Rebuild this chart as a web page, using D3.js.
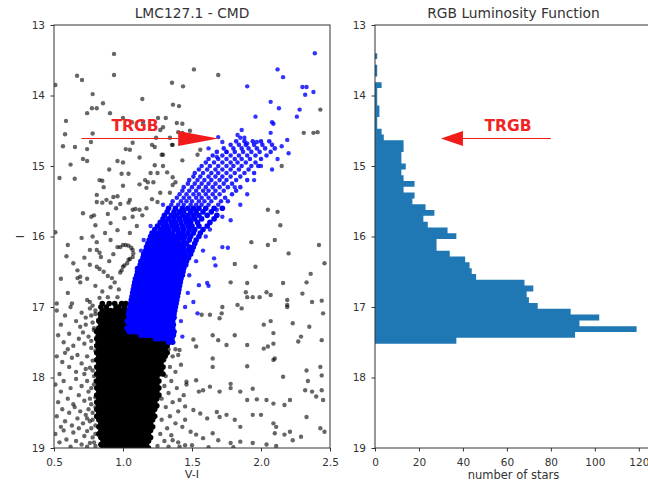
<!DOCTYPE html>
<html>
<head>
<meta charset="utf-8">
<script src="https://cdn.jsdelivr.net/npm/d3@7"></script>
<style>
    body { margin: 0; background: #fff; }
    svg { display: block; font-family: 'DejaVu Sans', sans-serif; }
</style>
</head>
<body>
<div id="content"></div>
<script>
// LMC127.1 colour-magnitude diagram and its RGB luminosity function

// non-RGB stars, read off the CMD as V-I, I pairs
const fieldStars = [
    0.935,13.41, 0.667,13.72, 0.703,13.78, 0.935,13.71, 1.514,13.63, 1.69,13.71, 0.78,13.98, 1.355,13.82,
    1.435,13.87, 1.14,14.05, 0.855,14.11, 0.81,14.18, 0.775,14.18, 0.74,14.25, 0.906,14.25, 1.362,14.13,
    1.406,14.15, 0.587,14.36, 0.58,14.55, 0.78,14.54, 0.565,14.72, 0.652,14.73, 0.74,14.76, 0.768,14.66,
    1.0,14.32, 1.065,14.38, 1.145,14.38, 1.254,14.32, 1.31,14.32, 1.39,14.39, 1.43,14.4, 1.485,14.5,
    1.4,14.52, 1.29,14.45, 1.27,14.49, 1.24,14.6, 1.34,14.6, 1.43,14.53, 1.07,14.67, 1.02,14.76,
    1.05,14.77, 1.21,14.7, 1.23,14.73, 1.36,14.7, 1.29,14.84, 1.355,14.7, 1.56,14.77, 1.54,14.84,
    2.31,14.53, 2.38,14.53, 2.41,14.52, 2.43,14.2, 0.51,13.85,
    0.54,15.17, 0.65,15.18, 0.71,14.9, 0.74,14.93, 0.96,14.93, 1.28,14.84, 1.43,14.92, 1.23,14.99,
    1.29,15.0, 1.2,15.1, 1.25,15.1, 1.32,15.09, 0.99,15.11, 1.04,15.11, 0.83,15.2, 0.85,15.21,
    0.86,15.3, 1.16,15.2, 1.18,15.23, 1.22,15.23, 1.36,15.16, 1.38,15.23, 1.36,15.27, 1.12,15.26,
    1.17,15.31, 1.0,15.28, 0.81,15.41, 0.93,15.44, 0.96,15.43, 0.91,15.52, 0.85,15.52, 0.81,15.51,
    0.88,15.48, 0.98,15.54, 1.05,15.48, 1.04,15.52, 1.27,15.38, 1.34,15.38, 1.21,15.47, 1.25,15.51,
    0.71,15.67, 0.77,15.72, 0.79,15.7, 0.89,15.68, 1.07,15.62, 1.09,15.61, 1.12,15.62, 1.17,15.6,
    1.14,15.7, 1.07,15.72, 1.01,15.74, 0.8,15.84, 0.91,15.81, 0.96,15.91, 0.51,15.94, 0.7,16.02,
    0.78,16.0, 0.81,16.08, 0.91,16.05, 0.96,16.15, 0.6,16.12, 0.59,16.28, 0.76,16.19, 0.81,16.19,
    0.83,16.23, 0.84,16.29,
    0.98,16.15, 1.0,16.12, 1.02,16.12, 1.04,16.13, 1.06,16.16, 1.07,16.19, 1.075,16.24, 1.07,16.29,
    1.05,16.32, 1.04,16.33, 1.03,16.38, 1.01,16.41, 1.0,16.43, 0.99,16.48, 0.98,16.51,
    0.67,16.48, 0.69,16.57, 0.67,16.59, 0.69,16.65, 0.76,16.4, 0.81,16.43, 0.83,16.46, 0.86,16.5,
    0.89,16.56, 0.92,16.59, 0.94,16.65, 0.8,16.7, 0.91,16.72, 0.74,16.9, 0.76,16.93, 0.83,16.87,
    0.89,16.86, 0.96,16.86,
    1.0,14.95, 1.12,14.88, 0.9,15.05, 0.62,14.98, 0.95,15.6, 0.87,15.95, 1.1,15.85, 1.05,15.95,
    0.72,16.3, 0.64,16.38, 0.9,16.35, 0.93,16.25, 0.74,16.6, 0.85,16.78, 0.97,16.75, 0.6,16.8,
    0.55,16.6, 0.52,16.95, 0.63,16.95,
    2.15,15.0, 2.05,15.62, 2.12,15.65, 2.14,15.84, 1.93,16.08, 2.05,16.12, 2.1,16.05, 2.2,16.24,
    2.42,16.12, 2.46,16.38, 1.81,16.39, 1.96,16.43, 1.78,16.65, 1.9,16.66, 2.16,16.66, 2.36,16.53,
    2.33,16.65, 2.3,16.81, 1.89,16.79, 1.9,16.86, 1.94,16.86, 1.99,16.86, 2.04,16.79, 2.07,16.83,
    2.19,16.9, 2.19,16.97, 2.37,16.93, 2.44,16.91, 1.72,17.0, 1.83,16.97,
    0.52,17.05, 0.58,17.12, 0.62,17.0, 0.66,17.2, 0.7,17.08, 0.73,17.15, 0.76,17.02, 0.78,17.22,
    0.8,17.1, 0.69,17.28, 0.55,17.25, 0.53,17.4, 0.57,17.5, 0.61,17.38, 0.64,17.55, 0.68,17.45,
    0.71,17.36, 0.72,17.52, 0.75,17.42, 0.77,17.58, 0.79,17.33, 0.6,17.6, 0.52,17.7, 0.56,17.78,
    0.58,17.65, 0.61,17.85, 0.63,17.72, 0.66,17.92, 0.67,17.68, 0.7,17.8, 0.72,17.95, 0.74,17.7,
    0.76,17.86, 0.78,17.76, 0.79,17.98, 0.54,17.95, 0.51,18.1, 0.55,18.2, 0.57,18.05, 0.6,18.3,
    0.62,18.15, 0.64,18.38, 0.66,18.02, 0.68,18.25, 0.7,18.12, 0.72,18.33, 0.74,18.05, 0.75,18.2,
    0.77,18.38, 0.79,18.1, 0.8,18.28, 0.53,18.35, 0.52,18.55, 0.56,18.45, 0.58,18.62, 0.61,18.5,
    0.63,18.68, 0.65,18.42, 0.67,18.58, 0.69,18.48, 0.71,18.65, 0.73,18.53, 0.75,18.45, 0.76,18.62,
    0.78,18.5, 0.8,18.68, 0.51,18.8, 0.54,18.92, 0.57,18.75, 0.59,18.88, 0.62,18.98, 0.64,18.78,
    0.66,18.9, 0.68,18.72, 0.7,18.95, 0.72,18.83, 0.74,18.76, 0.76,18.93, 0.78,18.85, 0.8,18.97,
    0.55,18.7, 0.73,17.25, 0.77,17.48, 0.8,17.62, 0.78,17.9, 0.8,18.05, 0.77,18.15, 0.8,18.42,
    0.78,18.6, 0.8,18.8, 0.77,18.72, 0.79,18.92, 0.74,18.98, 0.76,18.3, 0.74,18.58, 0.73,17.88,
    0.78,16.98, 0.8,17.05, 0.82,17.18, 0.79,17.3, 0.81,17.42, 0.77,17.12,
    1.33,17.6, 1.36,17.7, 1.3,17.75, 1.4,17.68, 1.34,17.85, 1.38,17.92, 1.31,17.98, 1.42,17.82,
    1.35,18.05, 1.3,18.12, 1.39,18.15, 1.33,18.22, 1.44,18.25, 1.28,18.3, 1.36,18.35, 1.31,18.42,
    1.4,18.48, 1.34,18.55, 1.28,18.6, 1.38,18.65, 1.32,18.72, 1.43,18.7, 1.27,18.8, 1.35,18.82,
    1.3,18.9, 1.4,18.92, 1.25,18.97, 1.33,18.98, 1.45,18.6, 1.46,18.1, 1.38,17.6, 1.29,17.62,
    1.57,17.11, 1.63,17.11, 1.715,17.09, 1.7,17.16, 1.86,17.02, 2.02,17.25, 2.07,17.2, 2.09,17.37,
    2.19,17.0, 2.23,17.23, 2.29,17.42, 2.27,17.49, 2.35,17.28, 2.44,17.47, 2.45,17.09, 1.65,17.4,
    1.69,17.47, 1.81,17.4, 1.75,17.54, 1.9,17.54, 2.02,17.59, 2.05,17.56, 2.09,17.52, 2.1,17.73,
    2.09,17.75, 1.65,17.73, 1.65,17.85, 1.9,17.84, 2.16,17.99, 2.33,17.9, 2.34,18.05, 2.43,17.85,
    2.44,17.97, 1.51,17.46, 1.53,17.56, 1.41,17.61, 1.46,18.06, 1.53,18.04, 1.55,18.2, 1.58,18.18,
    1.63,18.13, 1.7,18.2, 1.78,18.15, 1.78,18.09, 1.85,18.2, 1.9,18.32, 1.94,18.16, 1.97,18.31,
    2.04,18.32, 2.09,18.37, 2.17,18.39, 2.21,18.32, 2.32,18.18, 2.37,18.2, 2.4,18.27, 2.44,18.18,
    2.45,18.32, 1.41,18.32, 1.45,18.41, 1.51,18.46, 1.56,18.51, 1.61,18.58, 1.68,18.49, 1.7,18.56,
    1.75,18.53, 1.81,18.6, 1.85,18.7, 1.94,18.53, 2.0,18.53, 2.09,18.65, 2.11,18.7, 2.1,18.79,
    2.17,18.81, 2.21,18.77, 2.23,18.89, 2.29,18.84, 2.33,18.56, 2.43,18.72, 2.46,18.77, 1.49,18.77,
    1.53,18.81, 1.58,18.86, 1.65,18.79, 1.69,18.89, 1.78,18.93, 1.85,18.91, 1.94,18.93, 2.04,18.95,
    2.11,18.97, 1.5,18.96, 1.62,18.99, 1.8,18.99, 1.36,18.89, 1.41,18.98, 1.45,18.96
]

// the saturated main clump, one row per I: [I, [V-I, ...]]
const coreRows = [
    [16.95, [0.85, 0.9, 0.94, 0.99, 1.02]],
    [17.0, [0.84, 0.88, 0.95, 0.97, 1.01]],
    [17.05, [0.85, 0.88, 0.91, 0.94, 0.97, 1.0, 1.03]],
    [17.1, [0.835, 0.865, 0.895, 0.925, 0.955, 0.985, 1.015]],
    [17.15, [0.84, 0.87, 0.9, 0.93, 0.96, 0.99, 1.02]],
    [17.2, [0.825, 0.855, 0.885, 0.915, 0.945, 0.975, 1.005, 1.035]],
    [17.25, [0.84, 0.87, 0.9, 0.93, 0.96, 0.99, 1.02]],
    [17.3, [0.825, 0.855, 0.885, 0.915, 0.945, 0.975, 1.005, 1.035]],
    [17.35, [0.81, 0.84, 0.87, 0.9, 0.93, 0.96, 0.99, 1.02, 1.05, 1.08, 1.11]],
    [17.4, [0.825, 0.855, 0.885, 0.915, 0.945, 0.975, 1.005, 1.035, 1.065, 1.095, 1.125, 1.155, 1.185]],
    [17.45, [0.81, 0.84, 0.87, 0.9, 0.93, 0.96, 0.99, 1.02, 1.05, 1.08, 1.11, 1.14, 1.17, 1.2, 1.23, 1.26]],
    [17.5, [0.82, 0.855, 0.885, 0.915, 0.945, 0.975, 1.005, 1.035, 1.065, 1.095, 1.125, 1.155, 1.185, 1.215, 1.245, 1.275, 1.305, 1.335]],
    [17.55, [0.81, 0.84, 0.87, 0.9, 0.93, 0.96, 0.99, 1.02, 1.05, 1.08, 1.11, 1.14, 1.17, 1.2, 1.23, 1.26, 1.29, 1.32]],
    [17.6, [0.825, 0.855, 0.885, 0.915, 0.945, 0.975, 1.005, 1.035, 1.065, 1.095, 1.125, 1.155, 1.185, 1.215, 1.245, 1.275, 1.305]],
    [17.65, [0.81, 0.84, 0.87, 0.9, 0.93, 0.96, 0.99, 1.02, 1.05, 1.08, 1.11, 1.14, 1.17, 1.2, 1.23, 1.26, 1.29, 1.32]],
    [17.7, [0.825, 0.855, 0.885, 0.915, 0.945, 0.975, 1.005, 1.035, 1.065, 1.095, 1.125, 1.155, 1.185, 1.215, 1.245, 1.275, 1.305]],
    [17.75, [0.81, 0.84, 0.87, 0.9, 0.93, 0.96, 0.99, 1.02, 1.05, 1.08, 1.11, 1.14, 1.17, 1.2, 1.23, 1.26, 1.29]],
    [17.8, [0.825, 0.855, 0.885, 0.915, 0.945, 0.975, 1.005, 1.035, 1.065, 1.095, 1.125, 1.155, 1.185, 1.215, 1.245, 1.275]],
    [17.85, [0.81, 0.84, 0.87, 0.9, 0.93, 0.96, 0.99, 1.02, 1.05, 1.08, 1.11, 1.14, 1.17, 1.2, 1.23, 1.26, 1.29]],
    [17.9, [0.825, 0.855, 0.885, 0.915, 0.945, 0.975, 1.005, 1.035, 1.065, 1.095, 1.125, 1.155, 1.185, 1.215, 1.245, 1.275]],
    [17.95, [0.81, 0.84, 0.87, 0.9, 0.93, 0.96, 0.99, 1.02, 1.05, 1.08, 1.11, 1.14, 1.17, 1.2, 1.23, 1.26, 1.29]],
    [18.0, [0.825, 0.855, 0.885, 0.915, 0.945, 0.975, 1.005, 1.035, 1.065, 1.095, 1.125, 1.155, 1.185, 1.215, 1.245]],
    [18.05, [0.81, 0.84, 0.87, 0.9, 0.93, 0.96, 0.99, 1.02, 1.05, 1.08, 1.11, 1.14, 1.17, 1.2, 1.23, 1.26]],
    [18.1, [0.825, 0.855, 0.885, 0.915, 0.945, 0.975, 1.005, 1.035, 1.065, 1.095, 1.125, 1.155, 1.185, 1.215, 1.245]],
    [18.15, [0.81, 0.84, 0.87, 0.9, 0.93, 0.96, 0.99, 1.02, 1.05, 1.08, 1.11, 1.14, 1.17, 1.2, 1.23, 1.26]],
    [18.2, [0.825, 0.855, 0.885, 0.915, 0.945, 0.975, 1.005, 1.035, 1.065, 1.095, 1.125, 1.155, 1.185, 1.215, 1.245]],
    [18.25, [0.81, 0.84, 0.87, 0.9, 0.93, 0.96, 0.99, 1.02, 1.05, 1.08, 1.11, 1.14, 1.17, 1.2, 1.23, 1.26]],
    [18.3, [0.825, 0.855, 0.885, 0.915, 0.945, 0.975, 1.005, 1.035, 1.065, 1.095, 1.125, 1.155, 1.185, 1.215, 1.245]],
    [18.35, [0.81, 0.84, 0.87, 0.9, 0.93, 0.96, 0.99, 1.02, 1.05, 1.08, 1.11, 1.14, 1.17, 1.2, 1.23]],
    [18.4, [0.825, 0.855, 0.885, 0.915, 0.945, 0.975, 1.005, 1.035, 1.065, 1.095, 1.125, 1.155, 1.185, 1.215, 1.245]],
    [18.45, [0.81, 0.84, 0.87, 0.9, 0.93, 0.96, 0.99, 1.02, 1.05, 1.08, 1.11, 1.14, 1.17, 1.2, 1.23]],
    [18.5, [0.825, 0.855, 0.885, 0.915, 0.945, 0.975, 1.005, 1.035, 1.065, 1.095, 1.125, 1.155, 1.185, 1.215]],
    [18.55, [0.81, 0.84, 0.87, 0.9, 0.93, 0.96, 0.99, 1.02, 1.05, 1.08, 1.11, 1.14, 1.17, 1.2, 1.23]],
    [18.6, [0.825, 0.855, 0.885, 0.915, 0.945, 0.975, 1.005, 1.035, 1.065, 1.095, 1.125, 1.155, 1.185, 1.215]],
    [18.65, [0.84, 0.87, 0.9, 0.93, 0.96, 0.99, 1.02, 1.05, 1.08, 1.11, 1.14, 1.17, 1.2]],
    [18.7, [0.825, 0.855, 0.885, 0.915, 0.945, 0.975, 1.005, 1.035, 1.065, 1.095, 1.125, 1.155, 1.185, 1.215]],
    [18.75, [0.84, 0.87, 0.9, 0.93, 0.96, 0.99, 1.02, 1.05, 1.08, 1.11, 1.14, 1.17, 1.2]],
    [18.8, [0.825, 0.855, 0.885, 0.915, 0.945, 0.975, 1.005, 1.035, 1.065, 1.095, 1.125, 1.155, 1.185]],
    [18.85, [0.84, 0.87, 0.9, 0.93, 0.96, 0.99, 1.02, 1.05, 1.08, 1.11, 1.14, 1.17, 1.2]],
    [18.9, [0.855, 0.885, 0.915, 0.945, 0.975, 1.005, 1.035, 1.065, 1.095, 1.125, 1.155, 1.185]],
    [18.95, [0.84, 0.87, 0.9, 0.93, 0.96, 0.99, 1.02, 1.05, 1.08, 1.11, 1.14, 1.17]],
    [19.0, [0.855, 0.885, 0.915, 0.945, 0.975, 1.005, 1.035, 1.065, 1.095, 1.125, 1.155, 1.185]]
]

// RGB selected stars: scattered ones as V-I, I pairs
const rgbStars = [
    2.39,13.40, 1.90,13.87, 2.12,13.63, 2.16,13.74, 2.30,13.88, 2.33,13.88, 2.38,13.95, 2.32,13.99,
    2.07,14.09, 2.13,14.18, 1.96,14.3, 2.26,14.3, 2.28,14.2, 2.08,14.38, 2.09,14.4, 2.07,14.53,
    1.86,14.49, 1.83,14.56, 1.85,14.6, 1.88,14.6, 2.19,14.63, 1.69,14.59, 1.72,14.66, 1.62,14.75,
    1.68,14.87, 1.75,14.8, 2.15,14.72, 2.2,14.82, 2.12,14.9, 2.08,15.05, 1.9,14.68, 1.97,14.66,
    1.81,15.3, 1.9,15.4, 1.68,15.62, 1.72,15.72, 1.78,15.77, 1.72,16.15, 1.76,16.16, 1.66,16.31,
    1.67,16.41, 1.61,16.66, 1.55,16.69, 1.62,16.7, 1.51,16.93, 1.54,17.09, 1.43,17.42, 1.6,16.0,
    1.63,15.9, 1.58,16.2, 1.53,16.35, 1.48,16.55, 1.47,16.8, 1.45,17.0, 1.42,17.2, 1.85,15.55,
    1.95,15.2, 2.0,15.0, 1.29,15.55, 1.2,15.85, 1.15,16.05, 1.13,16.2, 1.1,16.45
]

// upper branch, still resolved into single stars, by rows: [I, [V-I, ...]]
const rgbUpperRows = [
    [14.65, [1.82, 1.88, 1.94, 2.0, 2.06]],
    [14.7, [1.78, 1.84, 1.89, 1.95, 2.01, 2.08]],
    [14.75, [1.73, 1.8, 1.86, 1.91, 1.97, 2.03, 2.1]],
    [14.8, [1.68, 1.75, 1.81, 1.87, 1.93, 1.99, 2.07]],
    [14.85, [1.65, 1.72, 1.78, 1.84, 1.9, 1.96, 2.04]],
    [14.9, [1.62, 1.69, 1.75, 1.81, 1.86, 1.92, 2.0]],
    [14.95, [1.6, 1.66, 1.72, 1.78, 1.83, 1.89, 1.96]],
    [15.0, [1.57, 1.63, 1.69, 1.75, 1.8, 1.86, 1.93, 1.98]],
    [15.05, [1.55, 1.61, 1.67, 1.72, 1.78, 1.84, 1.91]],
    [15.1, [1.52, 1.58, 1.64, 1.69, 1.75, 1.81, 1.88, 1.95]],
    [15.15, [1.51, 1.56, 1.62, 1.67, 1.72, 1.78, 1.85]],
    [15.2, [1.48, 1.54, 1.59, 1.64, 1.7, 1.75, 1.82, 1.9]],
    [15.25, [1.47, 1.52, 1.57, 1.62, 1.67, 1.73, 1.79]],
    [15.3, [1.44, 1.5, 1.55, 1.6, 1.65, 1.7, 1.76, 1.85]],
    [15.35, [1.43, 1.48, 1.53, 1.58, 1.62, 1.67, 1.73, 1.82]],
    [15.4, [1.41, 1.46, 1.51, 1.55, 1.6, 1.65, 1.7, 1.79]],
    [15.45, [1.39, 1.44, 1.48, 1.53, 1.57, 1.62, 1.67, 1.74]],
    [15.5, [1.36, 1.42, 1.46, 1.5, 1.55, 1.59, 1.64, 1.71, 1.76]],
    [15.55, [1.35, 1.4, 1.44, 1.49, 1.53, 1.57, 1.62, 1.69]]
]

// lower branch, crowded to saturation, by rows
const rgbLowerRows = [
    [15.6, [1.33, 1.38, 1.43, 1.47, 1.51, 1.55, 1.6, 1.66, 1.72]],
    [15.65, [1.32, 1.37, 1.41, 1.44, 1.49, 1.53, 1.58, 1.64]],
    [15.7, [1.3, 1.35, 1.39, 1.43, 1.47, 1.51, 1.55, 1.61, 1.68]],
    [15.75, [1.29, 1.33, 1.37, 1.41, 1.45, 1.48, 1.52, 1.57, 1.66]],
    [15.8, [1.27, 1.31, 1.35, 1.38, 1.42, 1.46, 1.49, 1.54, 1.63]],
    [15.85, [1.25, 1.29, 1.32, 1.36, 1.39, 1.43, 1.47, 1.5, 1.55, 1.61]],
    [15.9, [1.23, 1.27, 1.3, 1.33, 1.37, 1.4, 1.44, 1.48, 1.52, 1.58]],
    [15.95, [1.21, 1.24, 1.27, 1.3, 1.33, 1.36, 1.4, 1.43, 1.47, 1.51, 1.56]],
    [16.0, [1.2, 1.235, 1.265, 1.295, 1.325, 1.355, 1.385, 1.42, 1.45, 1.49, 1.55]],
    [16.05, [1.19, 1.22, 1.25, 1.28, 1.31, 1.34, 1.37, 1.4, 1.44, 1.48, 1.53]],
    [16.1, [1.18, 1.215, 1.245, 1.275, 1.305, 1.335, 1.365, 1.395, 1.43, 1.46, 1.52]],
    [16.15, [1.17, 1.2, 1.23, 1.26, 1.29, 1.32, 1.35, 1.38, 1.41, 1.44, 1.48, 1.51]],
    [16.2, [1.165, 1.195, 1.225, 1.255, 1.285, 1.315, 1.345, 1.375, 1.405, 1.435, 1.47, 1.5]],
    [16.25, [1.15, 1.18, 1.21, 1.24, 1.27, 1.3, 1.33, 1.36, 1.39, 1.42, 1.45, 1.49]],
    [16.3, [1.145, 1.175, 1.205, 1.235, 1.265, 1.295, 1.325, 1.355, 1.385, 1.415, 1.445, 1.475]],
    [16.35, [1.13, 1.16, 1.19, 1.22, 1.25, 1.28, 1.31, 1.34, 1.37, 1.4, 1.43, 1.46]],
    [16.4, [1.125, 1.155, 1.185, 1.215, 1.245, 1.275, 1.305, 1.335, 1.365, 1.395, 1.425, 1.455]],
    [16.45, [1.11, 1.14, 1.17, 1.2, 1.23, 1.26, 1.29, 1.32, 1.35, 1.38, 1.41, 1.44]],
    [16.5, [1.105, 1.135, 1.165, 1.195, 1.225, 1.255, 1.285, 1.315, 1.345, 1.375, 1.405, 1.435]],
    [16.55, [1.1, 1.13, 1.16, 1.19, 1.22, 1.25, 1.28, 1.31, 1.34, 1.37, 1.4, 1.43]],
    [16.6, [1.09, 1.12, 1.15, 1.18, 1.21, 1.24, 1.27, 1.3, 1.33, 1.36, 1.39, 1.42]],
    [16.65, [1.085, 1.115, 1.145, 1.175, 1.205, 1.235, 1.265, 1.295, 1.325, 1.355, 1.385, 1.415]],
    [16.7, [1.08, 1.11, 1.14, 1.17, 1.2, 1.23, 1.26, 1.29, 1.32, 1.35, 1.38, 1.41]],
    [16.75, [1.075, 1.105, 1.135, 1.165, 1.195, 1.225, 1.255, 1.285, 1.315, 1.345, 1.375, 1.405]],
    [16.8, [1.07, 1.1, 1.13, 1.16, 1.19, 1.22, 1.25, 1.28, 1.31, 1.34, 1.37, 1.4]],
    [16.85, [1.065, 1.095, 1.125, 1.155, 1.185, 1.215, 1.245, 1.275, 1.305, 1.335, 1.365, 1.395]],
    [16.9, [1.06, 1.09, 1.12, 1.15, 1.18, 1.21, 1.24, 1.27, 1.3, 1.33, 1.36, 1.39]],
    [16.95, [1.055, 1.085, 1.115, 1.145, 1.175, 1.205, 1.235, 1.265, 1.295, 1.325, 1.355, 1.385]],
    [17.0, [1.05, 1.08, 1.11, 1.14, 1.17, 1.2, 1.23, 1.26, 1.29, 1.32, 1.35, 1.38]],
    [17.05, [1.045, 1.075, 1.105, 1.135, 1.165, 1.195, 1.225, 1.255, 1.285, 1.315, 1.345, 1.375]],
    [17.1, [1.04, 1.07, 1.1, 1.13, 1.16, 1.19, 1.22, 1.25, 1.28, 1.31, 1.34, 1.37]],
    [17.15, [1.045, 1.075, 1.105, 1.135, 1.165, 1.195, 1.225, 1.255, 1.285, 1.315, 1.345, 1.37]],
    [17.2, [1.03, 1.06, 1.09, 1.12, 1.15, 1.18, 1.21, 1.24, 1.27, 1.3, 1.33, 1.36]],
    [17.25, [1.045, 1.075, 1.105, 1.135, 1.165, 1.195, 1.225, 1.255, 1.285, 1.315, 1.345, 1.365]],
    [17.3, [1.03, 1.06, 1.09, 1.12, 1.15, 1.18, 1.21, 1.24, 1.27, 1.3, 1.33, 1.36]],
    [17.35, [1.045, 1.075, 1.105, 1.135, 1.165, 1.195, 1.225, 1.255, 1.285, 1.315, 1.345, 1.37]],
    [17.4, [1.13, 1.16, 1.19, 1.22, 1.25, 1.28, 1.31, 1.34, 1.365]],
    [17.45, [1.235, 1.265, 1.295, 1.325, 1.355]],
    [17.5, [1.33, 1.36]]
]

// RGB luminosity function, counts per bin from the bright end down
const lfBinStart = 13.40
const lfBinWidth = 0.0824
const lfCounts = [1, 0, 1, 1, 0, 3, 1, 1, 1, 2, 2, 1, 1, 3, 4, 13, 13, 12, 12, 14, 12, 13, 18, 13, 18,
    17, 23, 27, 22, 24, 33, 37, 28, 28, 34, 41, 43, 44, 46, 68, 72, 69, 70, 74, 89, 102, 93, 119, 91, 37]

const trgbMag = 14.61
const magTicks = [13, 14, 15, 16, 17, 18, 19]
const colorTicks = [0.5, 1.0, 1.5, 2.0, 2.5]
const countTicks = [0, 20, 40, 60, 80, 100, 120]

const width = 648
const height = 484
const plotTop = 25
const plotBottom = 448
const textColor = '#333'

const svg = d3.select('#content')
    .append('svg')
    .attr('width', width)
    .attr('height', height)

const yScale = d3.scaleLinear().domain([13, 19]).range([plotTop, plotBottom])
const xCmd = d3.scaleLinear().domain([0.5, 2.5]).range([54, 330])
const xLf = d3.scaleLinear().domain([0, 126]).range([375, 652])

const pairs = flat => d3.range(0, flat.length, 2).map(i => [flat[i], flat[i + 1]])
const unrow = rows => rows.flatMap(([mag, cols]) => cols.map(c => [c, mag]))

// Setup clip for the CMD
svg.append('clipPath')
    .attr('id', 'cmd-clip')
    .append('rect')
    .attr('x', xCmd(0.5))
    .attr('y', plotTop)
    .attr('width', xCmd(2.5) - xCmd(0.5))
    .attr('height', plotBottom - plotTop)

const cmd = svg.append('g').attr('clip-path', 'url(#cmd-clip)')

// saturated rows get opaque, slightly larger dots so that they merge
const drawStars = (stars, color, opacity, r) => {
    cmd.append('g')
        .selectAll('circle')
        .data(stars)
        .join('circle')
        .attr('cx', d => xCmd(d[0]))
        .attr('cy', d => yScale(d[1]))
        .attr('r', r)
        .attr('fill', color)
        .attr('fill-opacity', opacity)
}

drawStars(pairs(fieldStars), '#000', 0.6, 2.2)
drawStars(unrow(coreRows), '#000', 1, 2.8)
drawStars(pairs(rgbStars), '#0000ff', 0.8, 2.2)
drawStars(unrow(rgbUpperRows), '#0000ff', 0.85, 2.3)
drawStars(unrow(rgbLowerRows), '#0000ff', 1, 2.8)

// Setup luminosity function
const lfOutline = [[0, lfBinStart]]
lfCounts.forEach((n, i) => {
    lfOutline.push([n, lfBinStart + i * lfBinWidth], [n, lfBinStart + (i + 1) * lfBinWidth])
})
lfOutline.push([0, lfBinStart + lfCounts.length * lfBinWidth])

svg.append('path')
    .attr('d', d3.line().x(d => xLf(d[0])).y(d => yScale(d[1]))(lfOutline) + 'Z')
    .attr('fill', '#1f77b4')

// Setup frames and axes
const frame = (x0, x1) => svg.append('rect')
    .attr('x', x0)
    .attr('y', plotTop)
    .attr('width', x1 - x0)
    .attr('height', plotBottom - plotTop)
    .attr('fill', 'none')
    .attr('stroke', textColor)
    .attr('stroke-width', 1)

frame(xCmd(0.5), xCmd(2.5))
frame(xLf(0), xLf(126))

const styleAxis = g => {
    g.select('.domain').remove()
    g.attr('color', textColor)
    g.selectAll('text').attr('font-size', 10.5).attr('fill', textColor)
        .attr('font-family', "'DejaVu Sans', sans-serif")
}

svg.append('g')
    .attr('transform', `translate(${xCmd(0.5)},0)`)
    .call(d3.axisLeft(yScale).tickValues(magTicks).tickSize(3.5).tickPadding(5.5).tickFormat(d3.format('d')))
    .call(styleAxis)

svg.append('g')
    .attr('transform', `translate(${xLf(0)},0)`)
    .call(d3.axisLeft(yScale).tickValues(magTicks).tickSize(3.5).tickPadding(5.5).tickFormat(d3.format('d')))
    .call(styleAxis)

svg.append('g')
    .attr('transform', `translate(0,${plotBottom})`)
    .call(d3.axisBottom(xCmd).tickValues(colorTicks).tickSize(3.5).tickPadding(7.5).tickFormat(d3.format('.1f')))
    .call(styleAxis)

svg.append('g')
    .attr('transform', `translate(0,${plotBottom})`)
    .call(d3.axisBottom(xLf).tickValues(countTicks).tickSize(3.5).tickPadding(7.5).tickFormat(d3.format('d')))
    .call(styleAxis)

// Titles and labels
const label = (text, x, y, size) => svg.append('text')
    .text(text)
    .attr('x', x)
    .attr('y', y)
    .attr('text-anchor', 'middle')
    .attr('font-size', size)
    .attr('fill', textColor)

label('LMC127.1 - CMD', (xCmd(0.5) + xCmd(2.5)) / 2, 18.3, 13.8)
label('RGB Luminosity Function', (xLf(0) + xLf(126)) / 2, 18.3, 13.8)
label('V-I', (xCmd(0.5) + xCmd(2.5)) / 2, 478, 11.2)
label('number of stars', (xLf(0) + xLf(126)) / 2, 479, 11.5)
label('I', 0, 0, 11.2)
    .attr('transform', `translate(24,${(plotTop + plotBottom) / 2}) rotate(-90)`)

// TRGB arrows
const trgbArrow = (scaleX, from, base, tip, textAt) => {
    const y = yScale(trgbMag)
    const half = yScale(trgbMag + 0.105) - y
    svg.append('line')
        .attr('x1', scaleX(from))
        .attr('x2', scaleX(base))
        .attr('y1', y)
        .attr('y2', y)
        .attr('stroke', '#f21b1b')
        .attr('stroke-width', 1.2)
    svg.append('path')
        .attr('d', `M${scaleX(tip)},${y}L${scaleX(base)},${y - half}L${scaleX(base)},${y + half}Z`)
        .attr('fill', '#f21b1b')
    svg.append('text')
        .text('TRGB')
        .attr('x', scaleX(textAt))
        .attr('y', yScale(14.5))
        .attr('text-anchor', 'middle')
        .attr('font-size', 15.5)
        .attr('font-weight', 'bold')
        .attr('fill', '#f02424')
}

trgbArrow(xCmd, 0.70, 1.40, 1.69, 1.087)
trgbArrow(xLf, 80, 40, 30, 60.5)
</script>
</body>
</html>
